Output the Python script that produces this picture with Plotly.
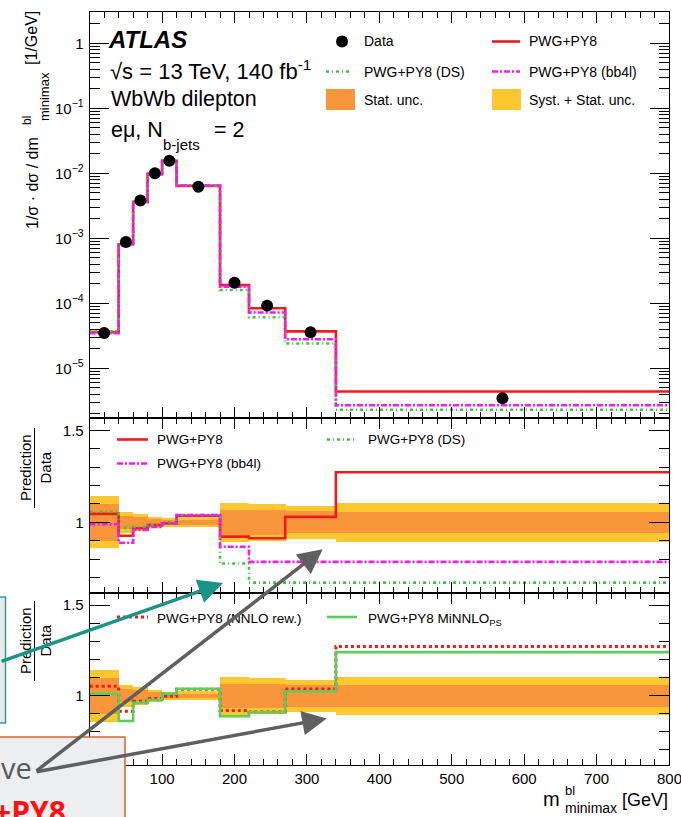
import plotly.graph_objects as go

W, H = 681, 817

# ---------------- data ----------------
edges = [0, 40, 60, 80, 100, 120, 180, 220, 270, 340, 800]
data = [3.5e-5, 8.8e-4, 3.8e-3, 1.0e-2, 1.56e-2, 6.2e-3, 2.07e-4, 9.2e-5, 3.58e-5, 3.45e-6]
pwg_top = [3.6e-5, 8.1e-4, 3.65e-3, 9.8e-3, 1.55e-2, 6.4e-3, 1.9e-4, 8.4e-5, 3.7e-5, 4.4e-6]
bb4l_top = [3.45e-5, 7.9e-4, 3.6e-3, 9.7e-3, 1.55e-2, 6.45e-3, 1.8e-4, 7.2e-5, 2.8e-5, 2.7e-6]
ds_top = [3.7e-5, 8.5e-4, 3.7e-3, 9.8e-3, 1.56e-2, 6.45e-3, 1.6e-4, 6.1e-5, 2.4e-5, 2.3e-6]

r_pwg = [1.046, 0.927, 0.968, 0.985, 0.995, 1.035, 0.922, 0.913, 1.03, 1.273]
r_bb4l = [0.99, 0.889, 0.958, 0.975, 0.995, 1.04, 0.867, 0.785, 0.785, 0.785]
r_ds = [1.058, 0.97, 0.975, 0.985, 1.0, 1.04, 0.776, 0.672, 0.672, 0.672]
r_nnlo = [1.051, 0.914, 0.969, 0.984, 0.996, 1.035, 0.918, 0.91, 1.037, 1.271]
r_minnlo = [1.01, 0.86, 0.96, 0.975, 1.011, 1.037, 0.886, 0.908, 1.024, 1.24]
stat_unc = [0.10, 0.036, 0.03, 0.02, 0.012, 0.012, 0.068, 0.068, 0.06, 0.059]
tot_unc = [0.142, 0.059, 0.048, 0.031, 0.023, 0.025, 0.105, 0.10, 0.09, 0.105]

x_ticks = [0, 100, 200, 300, 400, 500, 600, 700, 800]
x_ticktext = ["0", "100", "200", "300", "400", "500", "600", "700", ""]
last_x_label = "800"
log_ticks = [1e-5, 1e-4, 1e-3, 1e-2, 1e-1, 1]
log_ticktext = ["10<sup>−5</sup>", "10<sup>−4</sup>", "10<sup>−3</sup>", "10<sup>−2</sup>", "10<sup>−1</sup>", "1"]

# ---------------- colours ----------------
RED = "#ee1c1c"
MAG = "#f01ef0"
GRN = "#3ec43e"
GRN2 = "#5ccc5c"
ORANGE = "#f9953b"
YELLOW = "#fdc72f"
FONT = "Liberation Sans"

centers = [(a + b) / 2 for a, b in zip(edges[:-1], edges[1:])]
widths = [b - a for a, b in zip(edges[:-1], edges[1:])]


def px(x):
    return x / W


def py(y):
    return 1 - y / H


def step(vals):
    return list(edges), list(vals) + [vals[-1]]


fig = go.Figure()

# ---- top panel ----
for vals, col, dash in [(pwg_top, RED, "solid"), (ds_top, GRN, "3px,3px,1px,3px"),
                        (bb4l_top, MAG, "6px,2px,2px,2px")]:
    xs, ys = step(vals)
    fig.add_trace(go.Scatter(x=xs, y=ys, mode="lines", line=dict(shape="hv", color=col, width=2.6, dash=dash),
                             xaxis="x", yaxis="y", showlegend=False))
fig.add_trace(go.Scatter(x=centers, y=data, mode="markers", marker=dict(color="black", size=12),
                         xaxis="x", yaxis="y", showlegend=False))

# ---- ratio panels: bands ----
for xa, ya in [("x2", "y2"), ("x3", "y3")]:
    fig.add_trace(go.Bar(x=centers, y=[2 * e for e in tot_unc], base=[1 - e for e in tot_unc], width=widths,
                         marker=dict(color=YELLOW, line=dict(width=0)), xaxis=xa, yaxis=ya, showlegend=False))
    fig.add_trace(go.Bar(x=centers, y=[2 * e for e in stat_unc], base=[1 - e for e in stat_unc], width=widths,
                         marker=dict(color=ORANGE, line=dict(width=0)), xaxis=xa, yaxis=ya, showlegend=False))

for vals, col, dash in [(r_pwg, RED, "solid"), (r_ds, GRN, "3px,3px,1px,3px"), (r_bb4l, MAG, "6px,2px,2px,2px")]:
    xs, ys = step(vals)
    fig.add_trace(go.Scatter(x=xs, y=ys, mode="lines", line=dict(shape="hv", color=col, width=2.6, dash=dash),
                             xaxis="x2", yaxis="y2", showlegend=False))

for vals, col, dash, w in [(r_nnlo, RED, "3px,3px", 3), (r_minnlo, GRN2, "solid", 2.6)]:
    xs, ys = step(vals)
    fig.add_trace(go.Scatter(x=xs, y=ys, mode="lines", line=dict(shape="hv", color=col, width=w, dash=dash),
                             xaxis="x3", yaxis="y3", showlegend=False))

# ---------------- axes ----------------
xdom = [px(89.7), px(669)]
tickfont = dict(family=FONT, size=15, color="black")


def xaxis_cfg(anchor, labels):
    return dict(domain=xdom, range=[0, 800], anchor=anchor, showline=True, linecolor="black", linewidth=1,
                mirror="ticks", ticks="inside", tickvals=x_ticks, ticktext=x_ticktext, ticklen=11,
                tickcolor="black", showticklabels=labels, tickfont=tickfont, showgrid=False, zeroline=False,
                automargin=False,
                minor=dict(ticks="inside", dtick=20, tick0=0, ticklen=6, tickcolor="black", showgrid=False))


minor_log = []
for e in range(-6, 1):
    for k in range(2, 10):
        v = k * 10 ** e
        if 10 ** -5.765 < v < 10 ** 0.486:
            minor_log.append(v)

ratio_minor = [0.7, 0.8, 0.9, 1.1, 1.2, 1.3, 1.4]


def ratio_y(dom, anchor):
    return dict(domain=dom, range=[0.617, 1.568], anchor=anchor, showline=True, linecolor="black", linewidth=1,
                mirror="ticks", ticks="inside", tickvals=[1, 1.5], ticktext=["1", "1.5"], ticklen=20,
                tickcolor="black", tickfont=tickfont, showgrid=False, zeroline=False, ticklabelstandoff=2,
                automargin=False,
                minor=dict(ticks="inside", tickmode="array", tickvals=ratio_minor, ticklen=10,
                           tickcolor="black", showgrid=False))


layout = dict(
    width=W, height=H, margin=dict(l=0, r=0, t=0, b=0), paper_bgcolor="white", plot_bgcolor="white",
    barmode="overlay", bargap=0, showlegend=False,
    xaxis=xaxis_cfg("y", False), xaxis2=xaxis_cfg("y2", False), xaxis3=xaxis_cfg("y3", True),
    yaxis=dict(domain=[py(418), py(11.7)], type="log", range=[-5.765, 0.486], anchor="x", showline=True,
               linecolor="black", linewidth=1, mirror="ticks", ticks="inside", tickvals=log_ticks,
               ticktext=log_ticktext, ticklen=19, tickcolor="black", tickfont=tickfont, showgrid=False,
               zeroline=False, ticklabelstandoff=2, automargin=False,
               minor=dict(ticks="inside", tickmode="array", tickvals=minor_log, ticklen=10, tickcolor="black",
                          showgrid=False)),
    yaxis2=ratio_y([py(592.7), py(418)], "x2"),
    yaxis3=ratio_y([py(765), py(592.7)], "x3"),
)
fig.update_layout(**layout)

ann = []
shapes = []


def text(t, x, y, size, xanchor="left", yanchor="middle", color="black", family=FONT, angle=0, **kw):
    ann.append(dict(text=t, x=px(x), y=py(y), xref="paper", yref="paper", xanchor=xanchor, yanchor=yanchor,
                    showarrow=False, textangle=angle, font=dict(family=family, size=size, color=color), **kw))


def hline(x0, x1, y, color, width, dash="solid"):
    shapes.append(dict(type="line", xref="paper", yref="paper", x0=px(x0), x1=px(x1), y0=py(y), y1=py(y),
                       line=dict(color=color, width=width, dash=dash)))


def vline(x, y0, y1, color, width):
    shapes.append(dict(type="line", xref="paper", yref="paper", x0=px(x), x1=px(x), y0=py(y0), y1=py(y1),
                       line=dict(color=color, width=width)))


def rect(x0, x1, y0, y1, fill, line_color=None, lw=0, layer="above"):
    shapes.append(dict(type="rect", xref="paper", yref="paper", x0=px(x0), x1=px(x1), y0=py(y0), y1=py(y1),
                       fillcolor=fill, line=dict(color=line_color or fill, width=lw), layer=layer))


# last x tick label (sits at the right page edge, partly cut like the reference)
text(last_x_label, 669, 778, 15, xanchor="center")

# ATLAS label
text("<b><i>ATLAS</i></b>", 106, 40, 24)
text("√s = 13 TeV, 140 fb<sup>-1</sup>", 108, 70, 22)
text("WbWb dilepton", 109, 99, 21.5)
text("eμ, N", 109, 130, 21.5)
text("b-jets", 161, 144, 15)
text("= 2", 212, 130, 21.5)

# top legend
shapes.append(dict(type="circle", xref="paper", yref="paper", x0=px(336), x1=px(348), y0=py(35.5), y1=py(47.5),
                   fillcolor="black", line=dict(color="black", width=0)))
text("Data", 362, 41.5, 14)
hline(326, 352, 71.5, GRN, 2.5, "3px,3px,1px,3px")
text("PWG+PY8 (DS)", 362, 71.5, 14)
rect(326, 355, 89, 110, ORANGE)
text("Stat. unc.", 362, 100, 14)
hline(492, 520, 41.5, RED, 2.6)
text("PWG+PY8", 527, 41.5, 14)
hline(492, 520, 71.5, MAG, 2.5, "6px,2px,2px,2px")
text("PWG+PY8 (bb4l)", 527, 71.5, 14)
rect(492, 521, 89, 110, YELLOW)
text("Syst. + Stat. unc.", 527, 100, 14)

# ratio 1 legend
hline(117, 148, 439.5, RED, 2.6)
text("PWG+PY8", 155, 439.5, 13.5)
hline(117, 148, 463.5, MAG, 2.5, "6px,2px,2px,2px")
text("PWG+PY8 (bb4l)", 155, 463.5, 13.5)
hline(327, 357, 439.5, GRN, 2.5, "3px,3px,1px,3px")
text("PWG+PY8 (DS)", 366, 439.5, 13.5)

# ratio 2 legend
hline(117, 148, 617, RED, 3, "3px,3px")
text("PWG+PY8 (NNLO rew.)", 155, 618, 13.5)
hline(327, 357, 617, GRN2, 2.6)
text("PWG+PY8 MiNNLO<sub>PS</sub>", 366, 619, 13.5)

# axis titles
text("1/σ · dσ / dm", 32, 183, 16, xanchor="center", angle=-90)
text("bl", 27, 121, 12, xanchor="center", angle=-90)
text("minimax", 44, 97, 13, xanchor="center", angle=-90)
text("[1/GeV]", 32, 38, 16, xanchor="center", angle=-90)

for cy in (468, 641):
    text("Prediction<br>Data", 35, cy, 15, xanchor="center", angle=-90)
    vline(34.5, cy - 40, cy + 40, "black", 1)

text("m", 562, 799, 20, xanchor="right")
text("bl", 563, 790, 13)
text("minimax", 563, 808, 14)
text("[GeV]", 670, 800, 18, xanchor="right")

# slide overlay boxes
rect(-3, 5.5, 597, 723, "#e9ecec", "#3a9a90", 1.5)
rect(-3, 125, 737, 822, "#eceeef", "#e0632a", 1.5)
text("ve", 34, 767, 29, xanchor="right", color="#595959", family="Open Sans")
text("<b>+PY8</b>", -8, 811, 30, color="#ff1010", family="Open Sans")


def arrow(x_head, y_head, x_tail, y_tail, color):
    ann.append(dict(text="", x=px(x_head), y=py(y_head), xref="paper", yref="paper", showarrow=True,
                    ax=x_tail - x_head, ay=y_tail - y_head, axref="pixel", ayref="pixel",
                    arrowhead=2, arrowsize=1.4, arrowwidth=3.5, arrowcolor=color, standoff=0, startstandoff=0))


arrow(223, 583, -5, 662, "#1b9488")
arrow(322.7, 549.3, 35, 772, "#5f5f5f")
arrow(326.7, 718.5, 35, 772, "#5f5f5f")

fig.update_layout(annotations=ann, shapes=shapes)
fig.write_html("out.html", config={"displayModeBar": False},
               post_script="document.body.style.margin='0';document.body.style.overflow='hidden';")
